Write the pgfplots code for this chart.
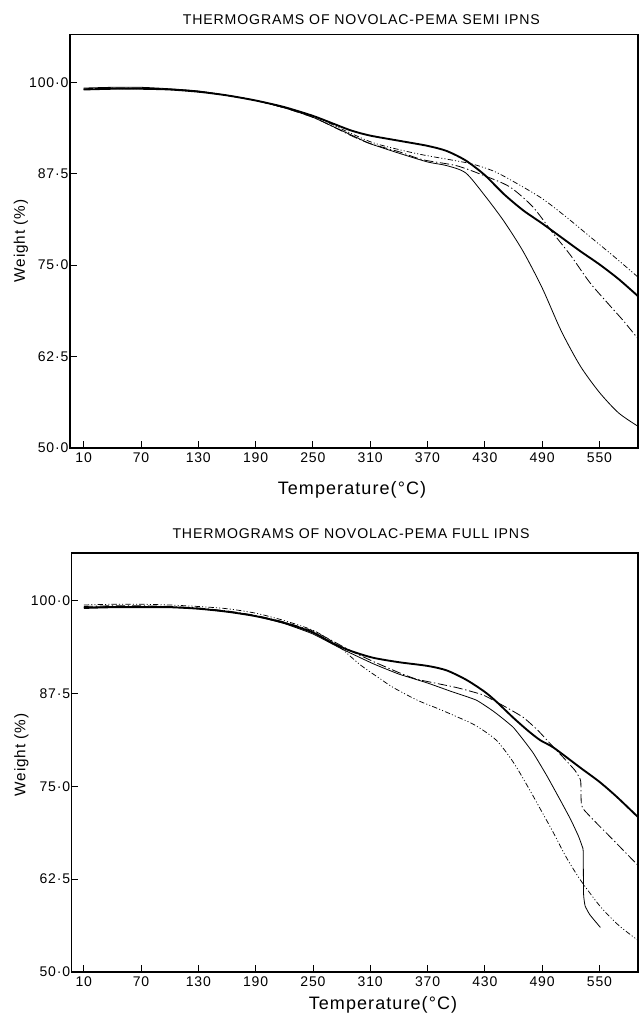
\documentclass[border=0pt]{standalone}
\usepackage{fontspec}
\setmainfont{Liberation Sans}
\newfontfamily\lbl[LetterSpace=6]{Liberation Sans}
\usepackage{pgfplots}
\pgfplotsset{compat=1.18}
\pgfplotstableread{
T W
10 99.0
40 99.1
70 99.1
100 99.0
130 98.7
160 98.2
190 97.5
220 96.6
250 95.4
270 94.4
290 93.4
310 92.7
340 92.0
370 91.3
390 90.6
410 89.3
430 87.3
450 84.7
470 82.5
490 80.7
510 78.8
530 76.9
550 75.1
570 73.1
590 70.8
}\semiA
\pgfplotstableread{
T W
10 99.2
40 99.3
70 99.3
100 99.1
130 98.8
160 98.2
190 97.5
220 96.5
250 95.2
270 94.0
290 92.8
310 91.6
340 90.3
370 89.1
390 88.6
410 87.6
430 84.5
450 81.0
470 76.9
490 71.9
510 66.0
530 61.2
550 57.6
570 54.8
590 53.0
}\semiB
\pgfplotstableread{
T W
10 99.1
40 99.2
70 99.2
100 99.0
130 98.7
160 98.2
190 97.5
220 96.5
250 95.2
270 94.0
290 92.7
310 91.6
340 90.5
365 89.4
400 88.6
428 87.3
456 85.7
480 83.0
500 79.6
520 76.3
540 72.6
560 69.6
575 67.4
590 65.0
}\semiC
\pgfplotstableread{
T W
10 99.0
40 99.1
70 99.1
100 99.0
130 98.7
160 98.2
190 97.5
220 96.5
250 95.4
290 93.0
316 91.6
360 90.2
414 88.9
440 87.8
463 86.2
490 84.1
515 81.6
540 78.9
565 76.2
590 73.4
}\semiD
\pgfplotstableread{
T W
10 99.0
40 99.1
70 99.1
100 99.1
130 98.9
160 98.5
190 97.9
220 97.0
250 95.7
270 94.3
290 93.2
313 92.3
340 91.7
370 91.2
390 90.6
411 89.3
430 87.7
442 86.4
460 84.2
475 82.5
488 81.2
502 80.2
530 77.5
550 75.6
568 73.6
590 70.9
}\fullA
\pgfplotstableread{
T W
10 99.1
40 99.2
70 99.2
100 99.1
130 98.9
160 98.5
190 97.9
220 96.9
250 95.5
280 93.5
313 91.5
340 90.1
370 88.9
394 87.8
421 86.6
440 85.0
460 82.9
480 79.6
495 76.4
510 72.9
520 70.5
528 68.3
532 66.9
533 66.3
533.4 60.5
535 58.9
540 57.7
551 56.0
}\fullB
\pgfplotstableread{
T W
10 99.2
40 99.3
70 99.3
100 99.2
130 99.0
160 98.6
190 98.0
220 97.1
250 95.9
270 94.6
290 93.2
313 91.8
340 90.3
359 89.4
400 88.3
428 87.3
450 85.8
470 84.3
485 82.6
498 80.8
512 78.9
524 77.2
529 76.2
530.5 75.6
531 72.6
534 71.8
545 70.3
565 67.7
590 64.4
}\fullC
\pgfplotstableread{
T W
10 99.4
40 99.5
70 99.5
100 99.4
130 99.2
160 98.9
190 98.3
220 97.3
250 96.0
270 94.5
282 93.3
300 91.3
320 89.5
334 88.3
359 86.6
380 85.5
400 84.4
420 83.2
442 81.2
460 78.2
477 74.5
490 71.5
502 68.7
515 65.5
530 62.4
551 58.8
570 56.3
590 54.3
}\fullD
\pgfplotsset{
  thermo/.style={
    scale only axis, anchor=south west,
    ymin=50,
    tick pos=left, tick align=inside, major tick length=5pt,
    xtick={10,70,130,190,250,310,370,430,490,550},
    xticklabels={10,70,130,190,250,310,370,430,490,550},
    ytick={50,62.5,75,87.5,100},
    yticklabels={50·0,62·5,75·0,87·5,100·0},
    ticklabel style={font=\lbl\fontsize{10.5}{12}\selectfont, text=black},
    yticklabel style={inner xsep=1pt},
    axis line style={line width=0.9pt},
    every tick/.style={line width=0.6pt, black},
    clip=true,
  },
  thk/.style={black, line width=1.4pt, smooth, tension=0.45, no marks},
  thn/.style={black, line width=0.6pt, smooth, tension=0.45, no marks},
  dd/.style={black, line width=0.6pt, smooth, tension=0.45, no marks,
     dash pattern=on 7pt off 2pt on 1pt off 2pt},
  ddd/.style={black, line width=0.55pt, smooth, tension=0.45, no marks,
     dash pattern=on 4pt off 1.6pt on 0.8pt off 1.6pt on 0.8pt off 1.6pt},
}
\begin{document}
\begin{tikzpicture}[x=1pt,y=1pt]
\useasboundingbox (0,0) rectangle (479.25,764.25);
% top axis
\begin{axis}[thermo, at={(52.5pt,428.25pt)}, width=426pt, height=310pt,
  xmin=-4.3, xmax=590.4, ymax=106.5]
\addplot[thk] table[x=T,y=W]{\semiA};
\addplot[thn] table[x=T,y=W]{\semiB};
\addplot[dd] table[x=T,y=W]{\semiC};
\addplot[ddd] table[x=T,y=W]{\semiD};
\end{axis}
% bottom axis
\begin{axis}[thermo, at={(53.8pt,35.25pt)}, width=424.7pt, height=314.25pt,
  xmin=-2.6, xmax=590.4, ymax=106.4]
\addplot[thk] table[x=T,y=W]{\fullA};
\addplot[thn, tension=0.25] table[x=T,y=W]{\fullB};
\addplot[dd, tension=0.25] table[x=T,y=W]{\fullC};
\addplot[ddd] table[x=T,y=W]{\fullD};
\end{axis}
\node[font=\lbl\fontsize{10.6}{12}\selectfont] at (271,749.25) {THERMOGRAMS OF NOVOLAC-PEMA SEMI IPNS};
\node[font=\lbl\fontsize{10.6}{12}\selectfont] at (263.25,363.75) {THERMOGRAMS OF NOVOLAC-PEMA FULL IPNS};
\node[font=\lbl\fontsize{13.5}{15}\selectfont] at (264,397) {Temperature(°C)};
\node[font=\lbl\fontsize{13.5}{15}\selectfont] at (287.25,10.5) {Temperature(°C)};
\node[font=\lbl\fontsize{11.5}{13}\selectfont, rotate=90] at (15.75,583.5) {Weight (\%)};
\node[font=\lbl\fontsize{11.5}{13}\selectfont, rotate=90] at (16,198) {Weight (\%)};
\end{tikzpicture}
\end{document}
